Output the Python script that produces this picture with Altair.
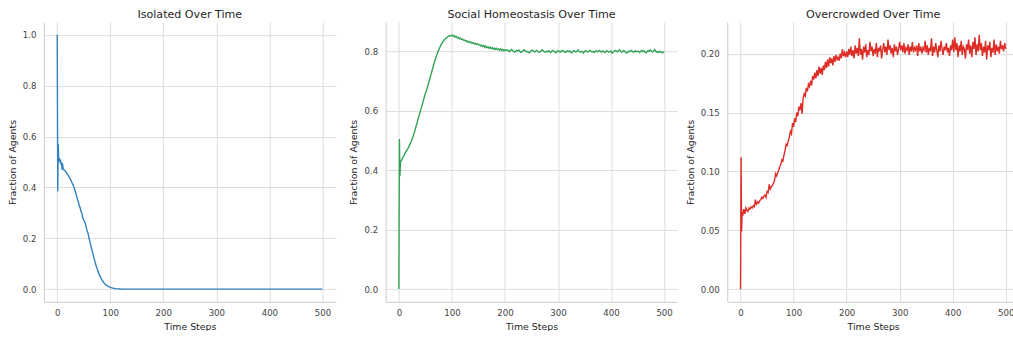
import altair as alt
import pandas as pd

# --- Isolated agents (sparse samples along a smooth decay) ---
iso_t = [0, 1, 2, 3, 4, 5, 6, 7, 8, 9, 10, 11, 12, 14, 16, 18, 20, 22, 25, 28, 30, 32, 35, 38, 40,
         42, 43, 45, 47, 48, 50, 53, 55, 57, 58, 60, 63, 65, 68, 70, 73, 75, 78, 80, 83, 85, 88, 90,
         93, 95, 100, 105, 110, 115, 120, 130, 140, 200, 300, 400, 500]
iso_v = [1.0, 0.385, 0.57, 0.50, 0.515, 0.505, 0.51, 0.49, 0.50, 0.47, 0.495, 0.475, 0.47, 0.468,
         0.462, 0.455, 0.45, 0.443, 0.432, 0.418, 0.41, 0.398, 0.378, 0.355, 0.342, 0.325, 0.322,
         0.305, 0.295, 0.282, 0.272, 0.258, 0.24, 0.226, 0.221, 0.2, 0.175, 0.158, 0.133, 0.117,
         0.095, 0.082, 0.064, 0.054, 0.041, 0.034, 0.025, 0.02, 0.015, 0.012, 0.007, 0.004, 0.002,
         0.001, 0.0005, 0.0001, 0.0, 0.0, 0.0, 0.0, 0.0]

# --- Social homeostasis (t = 0, 1, 2, 3, then every 2 steps from 4 to 500) ---
soc_t = [0, 1, 2, 3] + list(range(4, 501, 2))
soc_v = [0.0, 0.505, 0.38, 0.43,
         # t = 4 .. 50
         0.43, 0.436, 0.445, 0.45, 0.458, 0.464, 0.47, 0.476, 0.484, 0.492, 0.50, 0.51,
         0.52, 0.532, 0.545, 0.557, 0.57, 0.583, 0.596, 0.608, 0.62, 0.633, 0.646, 0.658,
         # t = 52 .. 100
         0.668, 0.68, 0.693, 0.706, 0.718, 0.731, 0.744, 0.757, 0.769, 0.78, 0.79, 0.80,
         0.808, 0.816, 0.823, 0.829, 0.835, 0.839, 0.843, 0.846, 0.849, 0.851, 0.853, 0.852, 0.854,
         # t = 102 .. 150
         0.851, 0.853, 0.848, 0.850, 0.845, 0.847, 0.842, 0.844, 0.840, 0.841, 0.837, 0.838,
         0.834, 0.836, 0.831, 0.833, 0.829, 0.831, 0.827, 0.829, 0.825, 0.827, 0.823, 0.825, 0.822,
         # t = 152 .. 200
         0.823, 0.818, 0.821, 0.816, 0.819, 0.813, 0.817, 0.812, 0.815, 0.810, 0.814, 0.809,
         0.812, 0.807, 0.811, 0.806, 0.810, 0.805, 0.808, 0.804, 0.808, 0.803, 0.806, 0.802, 0.805,
         # t = 202 .. 250
         0.802, 0.805, 0.803, 0.799, 0.801, 0.806, 0.804, 0.800, 0.797, 0.799, 0.803, 0.801,
         0.804, 0.800, 0.796, 0.798, 0.802, 0.805, 0.801, 0.799, 0.800, 0.797, 0.795, 0.799, 0.802,
         # t = 252 .. 300
         0.804, 0.800, 0.798, 0.801, 0.803, 0.799, 0.796, 0.798, 0.801, 0.805, 0.802, 0.799,
         0.797, 0.800, 0.798, 0.802, 0.800, 0.796, 0.799, 0.803, 0.801, 0.798, 0.795, 0.799, 0.802,
         # t = 302 .. 350
         0.800, 0.797, 0.801, 0.803, 0.799, 0.800, 0.796, 0.798, 0.802, 0.799, 0.801, 0.797,
         0.795, 0.799, 0.802, 0.800, 0.798, 0.801, 0.804, 0.799, 0.797, 0.800, 0.798, 0.794, 0.799,
         # t = 352 .. 400
         0.802, 0.800, 0.797, 0.799, 0.803, 0.801, 0.798, 0.800, 0.796, 0.799, 0.802, 0.798,
         0.800, 0.803, 0.799, 0.797, 0.801, 0.799, 0.796, 0.798, 0.802, 0.800, 0.797, 0.799, 0.801,
         # t = 402 .. 450
         0.794, 0.797, 0.800, 0.803, 0.801, 0.798, 0.802, 0.805, 0.800, 0.797, 0.799, 0.802,
         0.800, 0.796, 0.794, 0.798, 0.801, 0.799, 0.803, 0.800, 0.797, 0.799, 0.802, 0.798, 0.801,
         # t = 452 .. 500
         0.799, 0.796, 0.800, 0.803, 0.799, 0.801, 0.797, 0.795, 0.799, 0.802, 0.800, 0.804,
         0.801, 0.798, 0.800, 0.806, 0.801, 0.797, 0.799, 0.796, 0.800, 0.798, 0.795, 0.797, 0.794]

# --- Overcrowded agents (t = 0, 1, 2, 3, then every 2 steps from 4 to 500) ---
ovc_t = [0, 1, 2, 3] + list(range(4, 501, 2))
ovc_v = [0.0, 0.112, 0.049, 0.066,
         # t = 4 .. 50
         0.062, 0.068, 0.064, 0.069, 0.067, 0.066, 0.069, 0.068, 0.070, 0.069, 0.071, 0.070,
         0.076, 0.072, 0.074, 0.073, 0.075, 0.076, 0.078, 0.077, 0.079, 0.080, 0.078, 0.083,
         # t = 52 .. 100
         0.082, 0.089, 0.085, 0.087, 0.088, 0.090, 0.092, 0.098, 0.096, 0.099, 0.101, 0.104,
         0.106, 0.110, 0.109, 0.114, 0.118, 0.123, 0.122, 0.126, 0.129, 0.134, 0.132, 0.141, 0.138,
         # t = 102 .. 150
         0.145, 0.142, 0.150, 0.147, 0.155, 0.152, 0.158, 0.149, 0.162, 0.166, 0.164, 0.171,
         0.168, 0.174, 0.172, 0.177, 0.173, 0.181, 0.178, 0.184, 0.179, 0.186, 0.181, 0.189, 0.183,
         # t = 152 .. 200
         0.188, 0.182, 0.190, 0.186, 0.193, 0.188, 0.195, 0.189, 0.197, 0.192, 0.196, 0.190,
         0.198, 0.193, 0.199, 0.195, 0.197, 0.194, 0.200, 0.196, 0.204, 0.198, 0.201, 0.197, 0.202,
         # t = 202 .. 250
         0.197, 0.204, 0.199, 0.206, 0.198, 0.203, 0.196, 0.207, 0.200, 0.205, 0.198, 0.213,
         0.199, 0.204, 0.195, 0.206, 0.201, 0.208, 0.197, 0.203, 0.199, 0.210, 0.202, 0.206, 0.198,
         # t = 252 .. 300
         0.204, 0.200, 0.209, 0.197, 0.205, 0.202, 0.207, 0.196, 0.204, 0.209, 0.201, 0.206,
         0.199, 0.212, 0.203, 0.207, 0.200, 0.205, 0.197, 0.208, 0.202, 0.206, 0.199, 0.204, 0.210,
         # t = 302 .. 350
         0.203, 0.207, 0.201, 0.209, 0.200, 0.205, 0.203, 0.208, 0.199, 0.206, 0.202, 0.210,
         0.201, 0.205, 0.203, 0.207, 0.198, 0.209, 0.202, 0.206, 0.200, 0.205, 0.203, 0.211, 0.201,
         # t = 352 .. 400
         0.207, 0.199, 0.205, 0.202, 0.213, 0.198, 0.206, 0.201, 0.209, 0.203, 0.197, 0.207,
         0.202, 0.211, 0.204, 0.199, 0.206, 0.203, 0.209, 0.201, 0.205, 0.198, 0.207, 0.203, 0.212,
         # t = 402 .. 450
         0.201, 0.214, 0.203, 0.209, 0.197, 0.207, 0.202, 0.211, 0.199, 0.206, 0.204, 0.196,
         0.208, 0.203, 0.212, 0.200, 0.207, 0.197, 0.210, 0.204, 0.214, 0.199, 0.208, 0.202, 0.216,
         # t = 452 .. 500
         0.203, 0.209, 0.198, 0.206, 0.201, 0.211, 0.195, 0.207, 0.203, 0.210, 0.197, 0.205,
         0.201, 0.212, 0.199, 0.208, 0.202, 0.206, 0.200, 0.211, 0.204, 0.207, 0.202, 0.209, 0.204]

W, H = 292, 280
FONT = "DejaVu Sans"


def panel(t, v, title, color, y_domain, y_ticks, y_fmt):
    df = pd.DataFrame({"t": t, "v": v})
    return (
        alt.Chart(df)
        .mark_line(color=color, strokeWidth=1.4, clip=True)
        .encode(
            x=alt.X("t:Q", title="Time Steps",
                    scale=alt.Scale(domain=[-25, 525], nice=False, zero=False),
                    axis=alt.Axis(values=[0, 100, 200, 300, 400, 500], format="d")),
            y=alt.Y("v:Q", title="Fraction of Agents",
                    scale=alt.Scale(domain=y_domain, nice=False, zero=False),
                    axis=alt.Axis(values=y_ticks, format=y_fmt)),
        )
        .properties(width=W, height=H, title=title)
    )


p1 = panel(iso_t, iso_v, "Isolated Over Time", "#3182bd",
           [-0.05, 1.05], [0.0, 0.2, 0.4, 0.6, 0.8, 1.0], ".1f")
p2 = panel(soc_t, soc_v, "Social Homeostasis Over Time", "#31a354",
           [-0.043, 0.898], [0.0, 0.2, 0.4, 0.6, 0.8], ".1f")
p3 = panel(ovc_t, ovc_v, "Overcrowded Over Time", "#de2d26",
           [-0.0108, 0.2268], [0.0, 0.05, 0.10, 0.15, 0.20], ".2f")

chart = (
    alt.hconcat(p1, p2, p3, spacing=50, bounds="flush")
    .properties(padding={"left": 7, "top": 8, "right": -6, "bottom": 0}, background="white")
    .configure_view(stroke=None)
    .configure_axis(
        domainColor="#cccccc", domainWidth=1,
        gridColor="#dddddd", gridWidth=1,
        tickSize=0, labelPadding=8,
        labelFont=FONT, labelFontSize=8.6, labelColor="#444444",
        titleFont=FONT, titleFontSize=9.4, titleFontWeight="normal", titleColor="#262626",
    )
    .configure_axisY(titlePadding=5)
    .configure_axisX(titlePadding=5, labelPadding=7)
    .configure_title(font=FONT, fontSize=11.1, fontWeight="normal", color="#262626", offset=2)
)

chart.save("out.html", embed_options={"renderer": "svg", "actions": False})
